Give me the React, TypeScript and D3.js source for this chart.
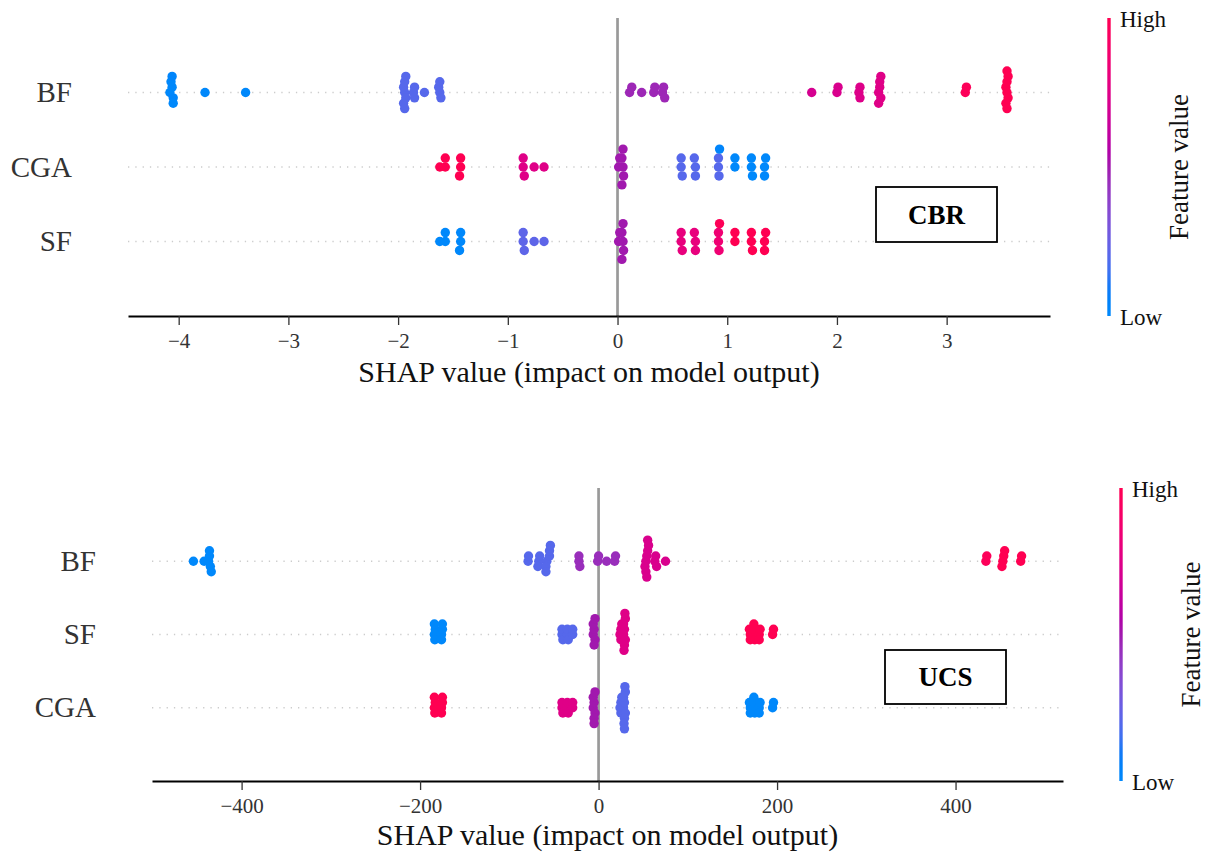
import * as d3 from "d3";
import { useEffect, useRef } from "react";

// [shap value, feature value 0..1]
type Pt = [number, number];

// ---- CBR panel ----
const cbrFeatures = ["BF", "CGA", "SF"];
const cbrBF: Pt[] = [
    [-4.08, 0], [-4.06, 0], [-4.05, 0.02], [-4.07, 0], [-4.05, 0], [-4.06, 0.02],
    [-3.76, 0], [-3.39, 0],
    [-1.94, 0.2], [-1.95, 0.2], [-1.93, 0.2], [-1.94, 0.2], [-1.95, 0.2], [-1.93, 0.2], [-1.94, 0.2],
    [-1.86, 0.2], [-1.85, 0.2], [-1.85, 0.2],
    [-1.76, 0.2],
    [-1.62, 0.2], [-1.63, 0.2], [-1.61, 0.2], [-1.62, 0.2],
    [0.11, 0.47], [0.13, 0.47], [0.22, 0.47], [0.33, 0.47], [0.34, 0.47], [0.41, 0.47], [0.42, 0.47], [0.43, 0.47],
    [1.77, 0.7], [2.0, 0.72], [2.01, 0.72], [2.2, 0.74], [2.21, 0.74], [2.21, 0.74],
    [2.38, 0.75], [2.39, 0.75], [2.4, 0.75], [2.39, 0.75], [2.38, 0.75], [2.4, 0.75],
    [3.17, 0.97], [3.18, 0.97],
    [3.55, 1], [3.54, 1], [3.56, 1], [3.55, 1], [3.54, 1], [3.56, 1], [3.55, 1], [3.55, 1],
];
const cbrCGA: Pt[] = [
    [-1.62, 1], [-1.57, 1], [-1.57, 1],
    [-1.43, 1], [-1.43, 1], [-1.44, 1],
    [-0.86, 0.75], [-0.86, 0.75], [-0.85, 0.75], [-0.76, 0.75], [-0.67, 0.75],
    [0.05, 0.5], [0.04, 0.5], [0.055, 0.5], [0.05, 0.5], [0.04, 0.5], [0.01, 0.5], [0.02, 0.5],
    [0.58, 0.2], [0.58, 0.2], [0.59, 0.2],
    [0.71, 0.2], [0.7, 0.2], [0.71, 0.2],
    [0.92, 0.2], [0.92, 0.2], [0.925, 0.2], [0.93, 0.02],
    [1.07, 0], [1.07, 0],
    [1.22, 0], [1.22, 0], [1.23, 0],
    [1.34, 0], [1.35, 0], [1.34, 0],
];
const cbrSF: Pt[] = [
    [-1.62, 0], [-1.57, 0], [-1.57, 0],
    [-1.43, 0], [-1.43, 0], [-1.44, 0],
    [-0.86, 0.22], [-0.86, 0.22], [-0.85, 0.22], [-0.76, 0.22], [-0.67, 0.22],
    [0.05, 0.5], [0.04, 0.5], [0.055, 0.5], [0.05, 0.5], [0.04, 0.5], [0.01, 0.5], [0.02, 0.5],
    [0.58, 0.8], [0.58, 0.8], [0.59, 0.8],
    [0.71, 0.8], [0.7, 0.8], [0.71, 0.8],
    [0.92, 0.85], [0.92, 0.85], [0.925, 0.85], [0.93, 0.98],
    [1.07, 1], [1.07, 1],
    [1.22, 1], [1.22, 1], [1.23, 1],
    [1.34, 1], [1.35, 1], [1.34, 1],
];
const cbrTicks = [-4, -3, -2, -1, 0, 1, 2, 3];

// ---- UCS panel ----
const ucsFeatures = ["BF", "SF", "CGA"];
const ucsBF: Pt[] = [
    [-454, 0], [-442, 0],
    [-437, 0], [-436, 0], [-435, 0], [-436, 0], [-434, 0],
    [-79, 0.2], [-78.5, 0.2],
    [-67, 0.2], [-66, 0.2], [-68, 0.2],
    [-58, 0.2], [-55, 0.2], [-59, 0.2], [-55, 0.2], [-59, 0.2], [-54, 0.2],
    [-22, 0.45], [-22, 0.45], [-21, 0.45],
    [-1, 0.45], [0, 0.45],
    [9, 0.45],
    [18, 0.45], [19, 0.45],
    [53, 0.72], [54, 0.72], [52, 0.72], [55, 0.72], [53, 0.72], [56, 0.72], [54, 0.72], [55, 0.72],
    [63, 0.72], [64, 0.72], [65, 0.72],
    [75, 0.72],
    [434, 0.97], [435, 0.97],
    [453, 1], [454, 1], [452, 1], [455, 1],
    [473, 1], [474, 1],
];
const ucsSF: Pt[] = [
    [-184, 0], [-183, 0], [-183.5, 0], [-184, 0],
    [-176, 0], [-175, 0], [-176, 0], [-175, 0],
    [-41, 0.2], [-41, 0.2], [-40, 0.2],
    [-35, 0.2], [-35, 0.2], [-34, 0.2],
    [-29, 0.2], [-29, 0.2],
    [-6, 0.5], [-5, 0.5], [-4, 0.5], [-6, 0.5], [-5, 0.5], [-4, 0.5],
    [24, 0.75], [25, 0.75], [25, 0.75], [26, 0.75],
    [28, 0.75], [29, 0.75], [30, 0.75], [28, 0.75], [29, 0.75], [30, 0.75], [28.5, 0.75], [29.5, 0.75],
    [170, 1], [169, 1], [170, 1],
    [173, 1], [174, 1], [175, 1], [174, 1],
    [180, 1], [181, 1], [180, 1],
    [195, 1], [196, 1],
];
const ucsCGA: Pt[] = [
    [-184, 1], [-183, 1], [-183.5, 1], [-184, 1],
    [-176, 1], [-175, 1], [-176, 1], [-175, 1],
    [-41, 0.75], [-41, 0.75], [-40, 0.75],
    [-35, 0.75], [-35, 0.75], [-34, 0.75],
    [-29, 0.75], [-29, 0.75],
    [-6, 0.5], [-5, 0.5], [-4, 0.5], [-6, 0.5], [-5, 0.5], [-4, 0.5], [-5, 0.5],
    [24, 0.2], [25, 0.2], [25, 0.2], [26, 0.2],
    [28, 0.2], [29, 0.2], [30, 0.2], [28, 0.2], [29, 0.2], [30, 0.2], [28.5, 0.2], [29.5, 0.2], [29, 0.2],
    [170, 0], [169, 0], [170, 0],
    [173, 0], [174, 0], [175, 0], [174, 0],
    [180, 0], [181, 0], [180, 0],
    [195, 0], [196, 0],
];
const ucsTicks = [-400, -200, 0, 200, 400];

const FONT = "'Liberation Serif', 'Times New Roman', serif";

// shap red_blue colormap: LCh path from blue to red, lightness dips to 40 in the middle
function shapColor(t: number) {
    const l = t < 0.5 ? 54 - 28 * t : 40 + 28 * (t - 0.5);
    const c = 70 + 20 * t;
    const h = 266.93 + (380.32 - 266.93) * t;
    return d3.hcl(h % 360, c, l).formatHex();
}

// same layering as shap's summary plot: 100 bins, alternate up/down within a bin
function beeswarm(vals: number[]) {
    const lo = d3.min(vals), hi = d3.max(vals);
    const quant = vals.map(v => Math.round(100 * (v - lo) / (hi - lo + 1e-8)));
    const order = d3.range(vals.length).sort((a, b) => quant[a] - quant[b] || a - b);
    const ys = new Array(vals.length).fill(0);
    let layer = 0, last = -1;
    order.forEach(i => {
        if (quant[i] !== last) layer = 0;
        ys[i] = Math.ceil(layer / 2) * ((layer % 2) * 2 - 1);
        layer++;
        last = quant[i];
    });
    const k = 0.9 * 0.4 / d3.max(ys, y => y + 1);
    return ys.map(y => y * k);
}

function drawPanel(svg, p) {
    const g = svg.append("g");
    const all = p.rows.flat().map(d => d[0]);
    const [lo, hi] = d3.extent(all);
    const pad = (hi - lo) * 0.05;
    const x = d3.scaleLinear().domain([lo - pad, hi + pad]).range([p.left, p.right]);
    const n = p.features.length;
    const y = d3.scaleLinear().domain([-1, n]).range([p.bottom, p.top]);

    // dotted row guides
    p.features.forEach((f, i) => {
        const pos = n - 1 - i;
        g.append("line")
            .attr("x1", p.left).attr("x2", p.right)
            .attr("y1", y(pos)).attr("y2", y(pos))
            .attr("stroke", "#cccccc")
            .attr("stroke-width", 1.3)
            .attr("stroke-dasharray", "1.3 6");
    });

    // zero line
    g.append("line")
        .attr("x1", x(0)).attr("x2", x(0))
        .attr("y1", p.top).attr("y2", p.bottom)
        .attr("stroke", "#999999")
        .attr("stroke-width", 2.7);

    // dots
    p.rows.forEach((row, i) => {
        const pos = n - 1 - i;
        const ys = beeswarm(row.map(d => d[0]));
        g.append("g").selectAll("circle")
            .data(row)
            .join("circle")
            .attr("cx", d => x(d[0]))
            .attr("cy", (d, j) => y(pos + ys[j]))
            .attr("r", 4.7)
            .attr("fill", d => shapColor(d[1]));
    });

    // feature names
    g.selectAll(".feat")
        .data(p.features)
        .join("text")
        .attr("x", p.left - 56)
        .attr("y", (d, i) => y(n - 1 - i) + 9.6)
        .attr("text-anchor", "end")
        .attr("font-family", FONT)
        .attr("font-size", 29)
        .attr("fill", "#333333")
        .text(d => d);

    // x axis
    const ax = g.append("g")
        .attr("transform", "translate(0," + p.bottom + ")")
        .attr("font-family", FONT)
        .call(d3.axisBottom(x).tickValues(p.ticks).tickSize(9).tickSizeOuter(0).tickPadding(8).tickFormat(d3.format("d")));
    ax.attr("font-family", FONT);
    ax.select(".domain").attr("stroke", "#000").attr("stroke-width", 2.2);
    ax.selectAll(".tick line").attr("stroke", "#333333").attr("stroke-width", 1.3);
    ax.selectAll(".tick text")
        .attr("font-family", FONT)
        .attr("font-size", 21)
        .attr("fill", "#333333");

    g.append("text")
        .attr("x", (p.left + p.right) / 2)
        .attr("y", p.labelY)
        .attr("text-anchor", "middle")
        .attr("font-family", FONT)
        .attr("font-size", 30)
        .attr("fill", "#111")
        .text("SHAP value (impact on model output)");

    // colorbar
    const gid = "grad-" + p.name;
    const grad = svg.append("defs").append("linearGradient")
        .attr("id", gid)
        .attr("x1", 0).attr("y1", 1).attr("x2", 0).attr("y2", 0);
    d3.range(0, 1.0001, 0.05).forEach(t => {
        grad.append("stop").attr("offset", t).attr("stop-color", shapColor(t));
    });
    g.append("rect")
        .attr("x", p.barX - 1.7)
        .attr("y", p.top)
        .attr("width", 3.4)
        .attr("height", p.bottom - p.top)
        .attr("fill", "url(#" + gid + ")");
    g.append("text")
        .attr("x", p.barX + 11).attr("y", p.top + 8.5)
        .attr("font-family", FONT).attr("font-size", 23).attr("fill", "#111")
        .text("High");
    g.append("text")
        .attr("x", p.barX + 11).attr("y", p.bottom + 8.5)
        .attr("font-family", FONT).attr("font-size", 23).attr("fill", "#111")
        .text("Low");
    g.append("text")
        .attr("transform", "translate(" + (p.barX + 79) + "," + ((p.top + p.bottom) / 2) + ") rotate(-90)")
        .attr("text-anchor", "middle")
        .attr("font-family", FONT).attr("font-size", 27).attr("fill", "#111")
        .text("Feature value");

    // target box
    g.append("rect")
        .attr("x", p.box.x).attr("y", p.box.y)
        .attr("width", p.box.w).attr("height", p.box.h)
        .attr("fill", "#fff")
        .attr("stroke", "#000")
        .attr("stroke-width", 1.8);
    g.append("text")
        .attr("x", p.box.x + p.box.w / 2)
        .attr("y", p.box.y + p.box.h / 2 + 9)
        .attr("text-anchor", "middle")
        .attr("font-family", FONT)
        .attr("font-weight", "bold")
        .attr("font-size", 27)
        .attr("fill", "#000")
        .text(p.name);
}

export default function App() {
    const ref = useRef(null);

    useEffect(() => {
        const svg = d3.select(ref.current);
        svg.selectAll("*").remove();

        drawPanel(svg, {
            name: "CBR",
            features: cbrFeatures,
            rows: [cbrBF, cbrCGA, cbrSF],
            ticks: cbrTicks,
            left: 128, right: 1050, top: 18, bottom: 316,
            labelY: 382,
            barX: 1109,
            box: { x: 876, y: 187, w: 121, h: 55 },
        });

        drawPanel(svg, {
            name: "UCS",
            features: ucsFeatures,
            rows: [ucsBF, ucsSF, ucsCGA],
            ticks: ucsTicks,
            left: 152, right: 1063, top: 488, bottom: 781,
            labelY: 845,
            barX: 1121,
            box: { x: 885, y: 650, w: 121, h: 54 },
        });
    }, []);

    return (
        <svg ref={ref} width={1211} height={853}
            style={{ position: "absolute", left: 0, top: 0, background: "#fff" }}>
        </svg>
    );
}
